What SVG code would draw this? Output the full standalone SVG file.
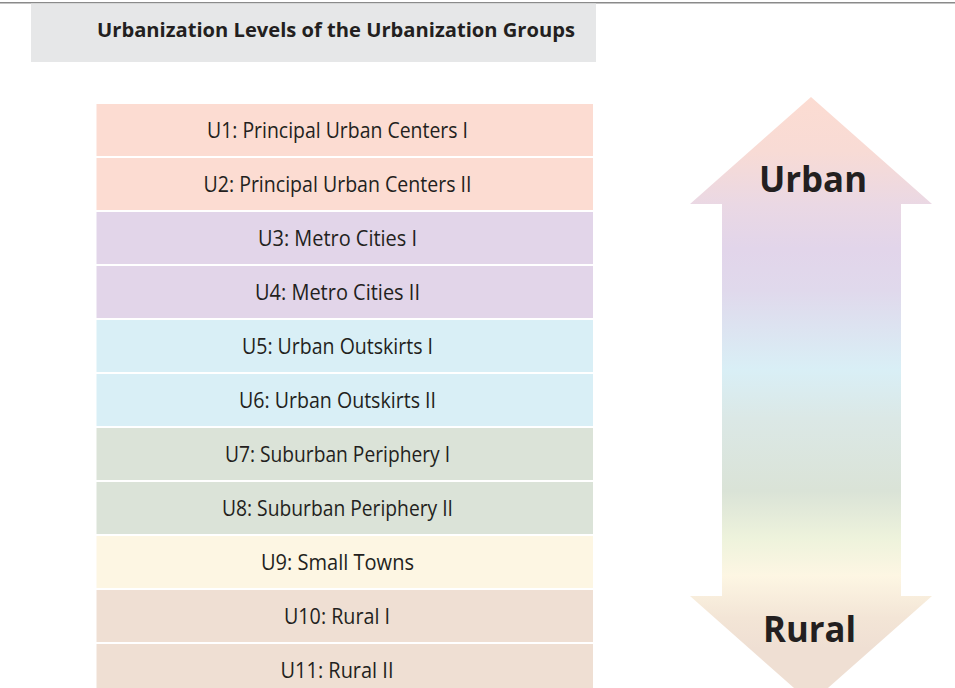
<svg xmlns="http://www.w3.org/2000/svg" width="955" height="688" viewBox="0 0 955 688">
  <defs>
    <linearGradient id="arrowGrad" gradientUnits="userSpaceOnUse" x1="0" y1="97" x2="0" y2="703">
      <stop offset="0" stop-color="#fcdcd2"/>
      <stop offset="0.09" stop-color="#f8dbd5"/>
      <stop offset="0.178" stop-color="#ead8e4"/>
      <stop offset="0.25" stop-color="#e2d5ea"/>
      <stop offset="0.32" stop-color="#e0d9ec"/>
      <stop offset="0.45" stop-color="#d9eff6"/>
      <stop offset="0.53" stop-color="#dbe8e6"/>
      <stop offset="0.65" stop-color="#dae3d7"/>
      <stop offset="0.73" stop-color="#eef3dc"/>
      <stop offset="0.79" stop-color="#fdf6e3"/>
      <stop offset="0.86" stop-color="#f3e5d6"/>
      <stop offset="0.91" stop-color="#efdfd3"/>
      <stop offset="1" stop-color="#efdfd3"/>
    </linearGradient>
  </defs>
  <style>
    .row text { font-family: "Open Sans", "Liberation Sans", sans-serif; font-size: 21px; fill: #231f20; text-anchor: middle; }
    .u12 { fill: #fcdcd2; }
    .u34 { fill: #e2d5e9; }
    .u56 { fill: #d9eff6; }
    .u78 { fill: #dbe3d8; }
    .u9 { fill: #fdf6e3; }
    .u1011 { fill: #efdfd3; }
    .big { font-family: "Open Sans", "Liberation Sans", sans-serif; font-weight: bold; font-size: 36px; fill: #231f20; text-anchor: middle; }
  </style>
  <rect x="0" y="0" width="955" height="688" fill="#ffffff"/>
  <line x1="0" y1="2.7" x2="955" y2="2.7" stroke="#8a8a8a" stroke-width="1.4"/>
  <g id="title">
    <rect x="31" y="3.5" width="565" height="58.5" fill="#e6e7e8"/>
    <text x="336" y="37.3" font-family="'Open Sans', 'Liberation Sans', sans-serif" font-weight="bold" font-size="19" fill="#231f20" text-anchor="middle" textLength="478" lengthAdjust="spacingAndGlyphs">Urbanization Levels of the Urbanization Groups</text>
  </g>
  <g id="u1" class="row"><rect class="u12" x="96.5" y="104" width="496.5" height="52"/><text x="337.5" y="138" textLength="261" lengthAdjust="spacingAndGlyphs">U1: Principal Urban Centers I</text></g>
  <g id="u2" class="row"><rect class="u12" x="96.5" y="158" width="496.5" height="52"/><text x="337.5" y="192" textLength="268" lengthAdjust="spacingAndGlyphs">U2: Principal Urban Centers II</text></g>
  <g id="u3" class="row"><rect class="u34" x="96.5" y="212" width="496.5" height="52"/><text x="337.5" y="246" textLength="159" lengthAdjust="spacingAndGlyphs">U3: Metro Cities I</text></g>
  <g id="u4" class="row"><rect class="u34" x="96.5" y="266" width="496.5" height="52"/><text x="337.5" y="300" textLength="165" lengthAdjust="spacingAndGlyphs">U4: Metro Cities II</text></g>
  <g id="u5" class="row"><rect class="u56" x="96.5" y="320" width="496.5" height="52"/><text x="337.5" y="354" textLength="191" lengthAdjust="spacingAndGlyphs">U5: Urban Outskirts I</text></g>
  <g id="u6" class="row"><rect class="u56" x="96.5" y="374" width="496.5" height="52"/><text x="337.5" y="408" textLength="197" lengthAdjust="spacingAndGlyphs">U6: Urban Outskirts II</text></g>
  <g id="u7" class="row"><rect class="u78" x="96.5" y="428" width="496.5" height="52"/><text x="337.5" y="462" textLength="225" lengthAdjust="spacingAndGlyphs">U7: Suburban Periphery I</text></g>
  <g id="u8" class="row"><rect class="u78" x="96.5" y="482" width="496.5" height="52"/><text x="337.5" y="516" textLength="231" lengthAdjust="spacingAndGlyphs">U8: Suburban Periphery II</text></g>
  <g id="u9" class="row"><rect class="u9" x="96.5" y="536" width="496.5" height="52"/><text x="337.5" y="570" textLength="153" lengthAdjust="spacingAndGlyphs">U9: Small Towns</text></g>
  <g id="u10" class="row"><rect class="u1011" x="96.5" y="590" width="496.5" height="52"/><text x="337" y="624" textLength="106" lengthAdjust="spacingAndGlyphs">U10: Rural I</text></g>
  <g id="u11" class="row"><rect class="u1011" x="96.5" y="644" width="496.5" height="52"/><text x="337" y="678" textLength="113" lengthAdjust="spacingAndGlyphs">U11: Rural II</text></g>
  <g id="arrow">
    <polygon points="811,97 932,204 901,204 901,596 932,596 811,703 690,596 722,596 722,204 690,204" fill="url(#arrowGrad)"/>
    <text class="big" x="813" y="192" textLength="108" lengthAdjust="spacingAndGlyphs">Urban</text>
    <text class="big" x="809.5" y="642" textLength="93" lengthAdjust="spacingAndGlyphs">Rural</text>
  </g>
  <g id="connectors"/>
</svg>
